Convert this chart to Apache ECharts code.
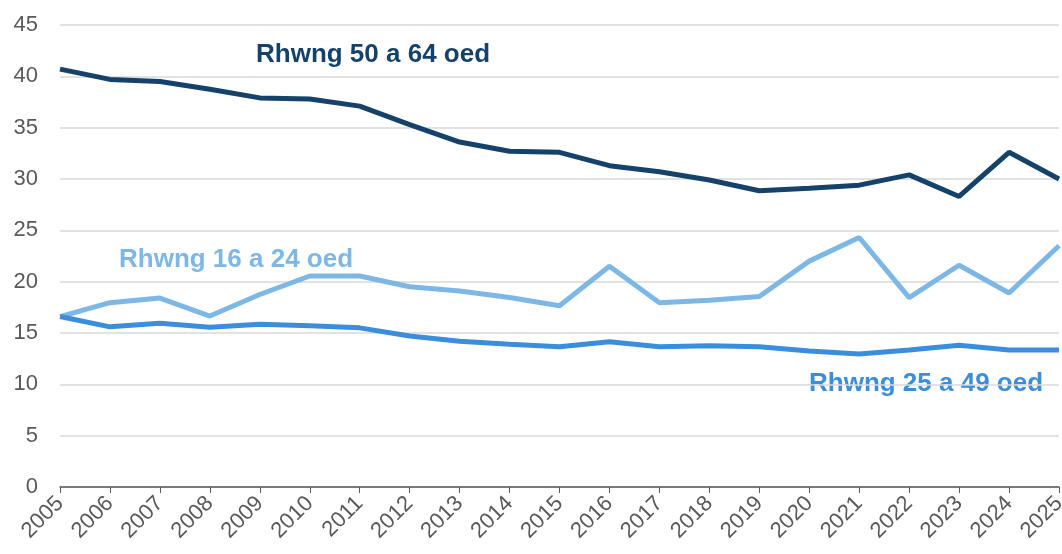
<!DOCTYPE html>
<html>
<head>
<meta charset="utf-8">
<script src="https://cdn.jsdelivr.net/npm/echarts@6/dist/echarts.min.js"></script>
<style>
  html, body { margin: 0; padding: 0; background: #fff; }
  #chart { width: 1062px; height: 554px; }
</style>
</head>
<body>
<div id="chart"></div>
<script>
  const years = ['2005','2006','2007','2008','2009','2010','2011','2012','2013','2014','2015',
    '2016','2017','2018','2019','2020','2021','2022','2023','2024','2025']
  const age16to24 = [16.6, 17.95, 18.4, 16.65, 18.75, 20.55, 20.55, 19.5, 19.1, 18.45, 17.65,
    21.5, 17.95, 18.2, 18.55, 22.0, 24.3, 18.45, 21.6, 18.9, 23.5]
  const age25to49 = [16.6, 15.6, 15.95, 15.55, 15.85, 15.7, 15.5, 14.7, 14.2, 13.9, 13.65,
    14.15, 13.65, 13.75, 13.65, 13.25, 12.95, 13.35, 13.8, 13.35, 13.35]
  const age50to64 = [40.7, 39.7, 39.5, 38.75, 37.9, 37.8, 37.1, 35.3, 33.6, 32.7, 32.6,
    31.3, 30.7, 29.9, 28.85, 29.1, 29.4, 30.4, 28.3, 32.6, 30.0]

  const dark = '#15426B'
  const light = '#7DB7E6'
  const mid = '#3B8EDC'
  const font = '"Liberation Sans", Arial, sans-serif'

  let chart = echarts.init(document.getElementById('chart'))
  chart.setOption({
    animation: false,
    textStyle: { fontFamily: font },
    grid: { left: 60, right: 3, top: 25, bottom: 67, containLabel: false, outerBoundsMode: 'none' },
    xAxis: {
      type: 'category',
      data: years,
      boundaryGap: false,
      axisLine: { lineStyle: { color: '#595959', width: 1.5 } },
      axisTick: { alignWithLabel: true, length: 6, lineStyle: { color: '#595959' } },
      axisLabel: { rotate: 45, color: '#595959', fontSize: 22, margin: 13, interval: 0 }
    },
    yAxis: {
      type: 'value',
      min: 0, max: 45, interval: 5,
      axisLine: { show: false },
      axisTick: { show: false },
      axisLabel: { color: '#595959', fontSize: 22, margin: 22 },
      splitLine: { lineStyle: { color: '#d9d9d9', width: 1.5 } }
    },
    series: [
      { name: 'Rhwng 16 a 24 oed', type: 'line', data: age16to24, symbol: 'none',
        lineStyle: { color: light, width: 5 } },
      { name: 'Rhwng 25 a 49 oed', type: 'line', data: age25to49, symbol: 'none',
        lineStyle: { color: mid, width: 5 } },
      { name: 'Rhwng 50 a 64 oed', type: 'line', data: age50to64, symbol: 'none',
        lineStyle: { color: dark, width: 5 } }
    ],
    graphic: [
      { type: 'text', left: 256, top: 42,
        style: { text: 'Rhwng 50 a 64 oed', fill: dark, font: 'bold 26px ' + font } },
      { type: 'text', left: 119, top: 247,
        style: { text: 'Rhwng 16 a 24 oed', fill: light, font: 'bold 26px ' + font } },
      { type: 'text', left: 809, top: 371,
        style: { text: 'Rhwng 25 a 49 oed', fill: mid, font: 'bold 26px ' + font } }
    ]
  })
</script>
</body>
</html>
